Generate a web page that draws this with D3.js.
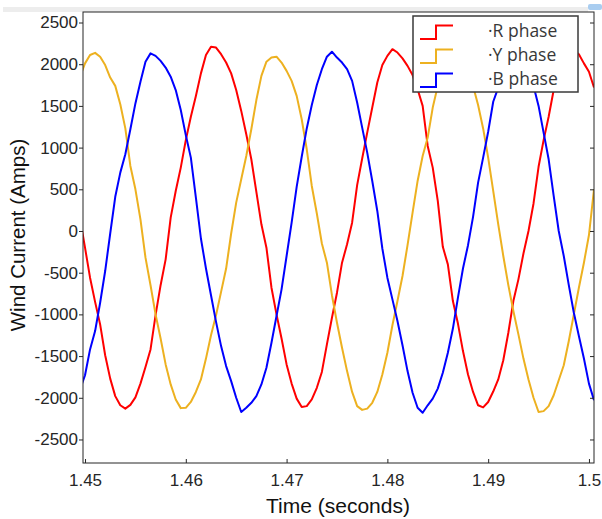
<!DOCTYPE html>
<html>
<head>
<meta charset="utf-8">
<script src="https://cdn.jsdelivr.net/npm/d3@7"></script>
<style>
  body { margin: 0; background: #fff; }
  svg { display: block; }
</style>
</head>
<body>
<svg id="chart" width="602" height="519"></svg>
<script>
// Sample instants (seconds)
const times = [
  1.4495, 1.4500, 1.4505, 1.4510, 1.4515, 1.4520, 1.4525, 1.4530, 1.4535, 1.4540,
  1.4545, 1.4550, 1.4555, 1.4560, 1.4565, 1.4570, 1.4575, 1.4580, 1.4585, 1.4590,
  1.4595, 1.4600, 1.4605, 1.4610, 1.4615, 1.4620, 1.4625, 1.4630, 1.4635, 1.4640,
  1.4645, 1.4650, 1.4655, 1.4660, 1.4665, 1.4670, 1.4675, 1.4680, 1.4685, 1.4690,
  1.4695, 1.4700, 1.4705, 1.4710, 1.4715, 1.4720, 1.4725, 1.4730, 1.4735, 1.4740,
  1.4745, 1.4750, 1.4755, 1.4760, 1.4765, 1.4770, 1.4775, 1.4780, 1.4785, 1.4790,
  1.4795, 1.4800, 1.4805, 1.4810, 1.4815, 1.4820, 1.4825, 1.4830, 1.4835, 1.4840,
  1.4845, 1.4850, 1.4855, 1.4860, 1.4865, 1.4870, 1.4875, 1.4880, 1.4885, 1.4890,
  1.4895, 1.4900, 1.4905, 1.4910, 1.4915, 1.4920, 1.4925, 1.4930, 1.4935, 1.4940,
  1.4945, 1.4950, 1.4955, 1.4960, 1.4965, 1.4970, 1.4975, 1.4980, 1.4985, 1.4990,
  1.4995, 1.5000, 1.5005
];

// Phase currents (A)
const rPhase = [
  150,
  -200, -560, -850, -1120, -1490, -1770, -1980, -2090, -2130, -2085,
  -1995, -1830, -1630, -1420, -1010, -650, -340, 160, 480, 760,
  1090, 1370, 1620, 1890, 2110, 2210, 2200, 2120, 2020, 1890,
  1690, 1440, 1160, 860, 470, 80, -200, -680, -1000, -1290,
  -1600, -1830, -2010, -2110, -2100, -2020, -1880, -1690, -1360, -1040,
  -740, -380, -160, 100, 550, 870, 1180, 1480, 1780, 1990,
  2100, 2180, 2140, 2070, 1980, 1870, 1700, 1500, 1020, 760,
  360, -190, -400, -840, -1110, -1440, -1720, -1930, -2090, -2115,
  -2050, -1925, -1780, -1550, -1220, -840, -580, -270, 0, 330,
  770, 1090, 1370, 1690, 1920, 2070, 2160, 2170, 2120, 2010,
  1910, 1720
];
const yPhase = [
  1850,
  2010, 2110, 2136, 2090, 1990, 1840, 1740, 1520, 1230, 780,
  500, 140, -320, -650, -1000, -1290, -1600, -1840, -2020, -2124,
  -2120, -2050, -1930, -1780, -1530, -1250, -1010, -730, -450, -30,
  340, 620, 900, 1220, 1570, 1860, 2030, 2080, 2090, 2020,
  1920, 1800, 1620, 1340, 980, 540, 210, -150, -380, -770,
  -1100, -1400, -1680, -1930, -2100, -2145, -2130, -2060, -1930, -1720,
  -1460, -1130, -840, -540, -170, 220, 600, 900, 1120, 1480,
  1740, 1930, 2060, 2120, 2110, 2050, 1920, 1740, 1510, 1230,
  880, 480, 80, -300, -650, -960, -1240, -1530, -1780, -2000,
  -2170, -2160, -2100, -1970, -1790, -1610, -1320, -1000, -680, -380,
  -48, 500
];
const bPhase = [
  -1900,
  -1730, -1420, -1200, -860, -480, -30, 410, 700, 920, 1220,
  1530, 1790, 2030, 2130, 2100, 2040, 1960, 1850, 1690, 1450,
  1150, 880, 400, -90, -450, -770, -1090, -1380, -1620, -1800,
  -2000, -2170, -2120, -2060, -1980, -1840, -1640, -1340, -1020, -700,
  -300, 100, 530, 890, 1230, 1510, 1750, 1940, 2090, 2150,
  2080, 2020, 1940, 1800, 1540, 1240, 940, 600, 240, -210,
  -560, -820, -1080, -1370, -1680, -1940, -2120, -2180, -2090, -2010,
  -1890, -1700, -1460, -1170, -800, -450, -170, 170, 580, 880,
  1190, 1550, 1720, 1950, 2110, 2150, 2080, 1970, 1840, 1740,
  1500, 1180, 860, 420, 0, -300, -650, -980, -1260, -1530,
  -1830, -2030
];

const seriesNames = ["R phase", "Y phase", "B phase"];
const seriesColors = ["#ff0000", "#edb120", "#0000ff"];
const seriesValues = [rPhase, yPhase, bPhase];

const xTicks = [1.45, 1.46, 1.47, 1.48, 1.49, 1.50];
const xTickLabels = ["1.45", "1.46", "1.47", "1.48", "1.49", "1.5"];
const yTicks = [-2500, -2000, -1500, -1000, -500, 0, 500, 1000, 1500, 2000, 2500];

const xTitle = "Time (seconds)";
const yTitle = "Wind Current (Amps)";

// ---- layout ----
const svg = d3.select("#chart");
const plot = { left: 83, right: 594, top: 12, bottom: 463 };
const axisColor = "#262626";
const tickFont = "'Liberation Sans', Arial, sans-serif";

const x = d3.scaleLinear().domain([1.4498, 1.5005]).range([plot.left, plot.right]);
const y = d3.scaleLinear().domain([-2782, 2626]).range([plot.bottom, plot.top]);

// window strip above the axes
svg.append("rect").attr("x", 3).attr("y", 7).attr("width", 585).attr("height", 5).attr("fill", "#ededed");
svg.append("rect").attr("x", 588).attr("y", 4).attr("width", 14).attr("height", 6).attr("rx", 2).attr("fill", "#a9cdf0");

svg.append("defs").append("clipPath").attr("id", "plotClip")
  .append("rect")
  .attr("x", plot.left).attr("y", plot.top)
  .attr("width", plot.right - plot.left).attr("height", plot.bottom - plot.top);

// ---- waveforms ----
const line = d3.line()
  .x((d, i) => x(times[i]))
  .y(d => y(d));

const traces = svg.append("g").attr("clip-path", "url(#plotClip)");
seriesValues.forEach((vals, k) => {
  traces.append("path")
    .datum(vals)
    .attr("fill", "none")
    .attr("stroke", seriesColors[k])
    .attr("stroke-width", 2)
    .attr("stroke-linejoin", "round")
    .attr("d", line);
});

// ---- axes ----
const xAxis = d3.axisBottom(x)
  .tickValues(xTicks)
  .tickFormat((d, i) => xTickLabels[i])
  .tickSize(-4)
  .tickPadding(11);
const gx = svg.append("g").attr("transform", `translate(0,${plot.bottom})`).call(xAxis);

const yAxis = d3.axisLeft(y)
  .tickValues(yTicks)
  .tickFormat(d => String(d))
  .tickSize(4)
  .tickPadding(1);
const gy = svg.append("g").attr("transform", `translate(${plot.left},0)`).call(yAxis);

const yAxisR = d3.axisRight(y)
  .tickValues(yTicks)
  .tickFormat("")
  .tickSize(-4);
const gyR = svg.append("g").attr("transform", `translate(${plot.right},0)`).call(yAxisR);

[gx, gy, gyR].forEach(g => {
  g.select(".domain").remove();
  g.selectAll(".tick line").attr("stroke", axisColor).attr("stroke-width", 1);
  g.selectAll(".tick text")
    .attr("fill", axisColor)
    .style("font-family", tickFont)
    .style("font-size", "17px");
});

// frame
svg.append("rect")
  .attr("x", plot.left).attr("y", plot.top)
  .attr("width", plot.right - plot.left).attr("height", plot.bottom - plot.top)
  .attr("fill", "none").attr("stroke", axisColor).attr("stroke-width", 1);

// titles
svg.append("text")
  .attr("x", 338).attr("y", 513)
  .attr("text-anchor", "middle")
  .attr("fill", "#111")
  .style("font-family", tickFont)
  .style("font-size", "21px")
  .text(xTitle);

svg.append("text")
  .attr("transform", "translate(25,235) rotate(-90)")
  .attr("text-anchor", "middle")
  .attr("fill", "#111")
  .style("font-family", tickFont)
  .style("font-size", "20.5px")
  .text(yTitle);

// ---- legend ----
const legend = svg.append("g").attr("transform", "translate(413,16)");
legend.append("rect")
  .attr("x", 0).attr("y", 0).attr("width", 165).attr("height", 76)
  .attr("fill", "#fff").attr("stroke", "#3a3a3a").attr("stroke-width", 1.5);

const iconLow = [23, 47, 71];
const textBase = [21, 45, 69];
seriesNames.forEach((name, k) => {
  const lo = iconLow[k], hi = lo - 13.5;
  legend.append("path")
    .attr("d", `M7,${lo} H23 V${hi} H40`)
    .attr("fill", "none")
    .attr("stroke", seriesColors[k])
    .attr("stroke-width", 2);
  legend.append("text")
    .attr("x", 75).attr("y", textBase[k])
    .attr("fill", "#383838")
    .style("font-family", "'Open Sans', sans-serif")
    .style("font-size", "17.5px")
    .text("\u00B7" + name);
});
</script>
</body>
</html>
